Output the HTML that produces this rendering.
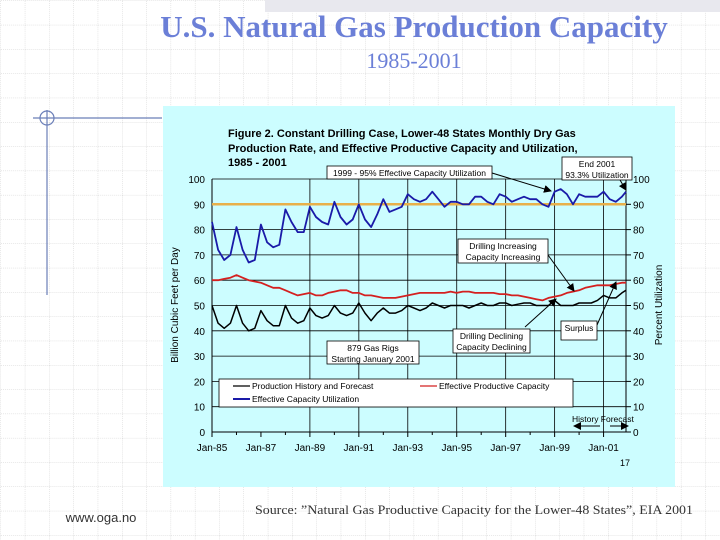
<!DOCTYPE html>
<html><head><meta charset="utf-8"><style>
html,body{margin:0;padding:0;background:#fff;}
#root{position:relative;width:720px;height:540px;overflow:hidden;font-family:"Liberation Sans",sans-serif;}
</style></head><body>
<div id="root">
<svg width="720" height="540" viewBox="0 0 720 540" xmlns="http://www.w3.org/2000/svg">
<defs>
<pattern id="grid" width="24.3" height="24.3" patternUnits="userSpaceOnUse" x="1" y="1">
<path d="M24.3 0 V24.3 M0 24.3 H24.3" stroke="#d0d0d0" stroke-width="1" stroke-dasharray="1,1" fill="none"/>
</pattern>
<marker id="ah" markerWidth="8" markerHeight="8" refX="7" refY="4" orient="auto"><path d="M0,0 L8,4 L0,8 z" fill="#000"/></marker>
</defs>
<rect x="0" y="0" width="720" height="540" fill="url(#grid)"/>
<rect x="265" y="0" width="455" height="12" fill="#e8e8ee"/>
<text x="414" y="37" text-anchor="middle" font-family="'Liberation Serif',serif" font-weight="bold" font-size="31" fill="#6b7fd7">U.S. Natural Gas Production Capacity</text>
<text x="414" y="68" text-anchor="middle" font-family="'Liberation Serif',serif" font-size="22" fill="#6b7fd7">1985-2001</text>
<g stroke="#6b7fb8" stroke-width="1.2" fill="none">
<line x1="33" y1="118" x2="162" y2="118"/><line x1="47" y1="110" x2="47" y2="295"/><circle cx="47" cy="118" r="7"/>
</g>
<rect x="163" y="106" width="512" height="381" fill="#ccfdff"/>
<g font-weight="bold" font-size="11" fill="#000">
<text x="228" y="137">Figure 2.  Constant Drilling Case, Lower-48 States Monthly Dry Gas</text>
<text x="228" y="152">Production Rate, and Effective Productive Capacity and Utilization,</text>
<text x="228" y="166">1985 - 2001</text>
</g>
<g id="plot"></g>
<text x="693" y="514" text-anchor="end" font-family="'Liberation Serif',serif" font-size="12.5" fill="#333" textLength="438" lengthAdjust="spacingAndGlyphs">Source: ”Natural Gas Productive Capacity for the Lower-48 States”, EIA 2001</text>
<text x="101" y="522" text-anchor="middle" font-size="13" fill="#333">www.oga.no</text>
</svg>
</div>
<script>
const yTicks=[0,10,20,30,40,50,60,70,80,90,100];
const xLabels=["Jan-85","Jan-87","Jan-89","Jan-91","Jan-93","Jan-95","Jan-97","Jan-99","Jan-01"];
const targetLevel=90;
// quarterly values Jan, Apr, Jul, Oct for 1985..2001, plus Dec-01
const utilization=[83,72,68,70, 81,72,67,68, 82,75,73,74, 88,83,79,79, 89,85,83,82, 91,85,82,84, 90,84,81,86, 92,87,88,89, 94,92,91,92, 95,92,89,91, 91,90,90,93, 93,91,90,94, 93,91,92,93, 92,92,90,89, 95,96,94,90, 94,93,93,93, 95,92,91,93, 95];
const capacity=[60,60,60.5,61, 62,61,60,59.5, 59,58,57,57, 56,55,54,54.5, 55,54,54,55, 55.5,56,56,55, 55,54,54,53.5, 53,53,53,53.5, 54,54.5,55,55, 55,55,55,55.5, 55,55.5,55.5,55, 55,55,55,54.5, 54.5,54,54,53.5, 53,52.5,52,53, 53.5,54,55,55.5, 56,57,57.5,58, 58,58,58.5, 59, 59];
const production=[50,43,41,43, 50,43,40,41, 48,44,42,42, 50,45,43,44, 49,46,45,46, 50,47,46,47, 51,47,44,47, 49,47,47,48, 50,49,48,49, 51,50,49,50, 50,50,49,50, 51,50,50,51, 51,50,50.5,51, 51,50,50,50, 52,50,50,50, 51,51,51,52, 54,53,53,55, 56];

const NS="http://www.w3.org/2000/svg";
const plot=document.getElementById('plot');
const X0=212,X1=626,Y0=432,YS=2.53,MONTHS=203;
const xScale=m=>X0+m*(X1-X0)/MONTHS;
const yScale=v=>Y0-v*YS;
const qMonth=i=>Math.min(i*3,MONTHS);
function mk(tag,attrs,parent){const e=document.createElementNS(NS,tag);for(const k in attrs)e.setAttribute(k,attrs[k]);(parent||plot).appendChild(e);return e;}

yTicks.forEach(v=>{
 const l=mk('line',{x1:X0,x2:X1,y1:yScale(v),y2:yScale(v),stroke:'#000','stroke-width':v===0?1:0.8});
 
 
 const t=mk('text',{x:205,y:yScale(v)+4,'text-anchor':'end','font-size':10});
 t.textContent=v;
 
 
 const t2=mk('text',{x:633,y:yScale(v)+4,'font-size':10});
 t2.textContent=v;
 
 
 const tk=mk('line',{x1:X1,x2:X1+5,y1:yScale(v),y2:yScale(v),stroke:'#000'});
 
 
});
mk('line',{x1:X0,x2:X0,y1:yScale(100),y2:Y0,stroke:'#000'});
mk('line',{x1:X1,x2:X1,y1:yScale(100),y2:Y0,stroke:'#000'});
xLabels.forEach((lab,i)=>{
 const m=i*24, x=xScale(m);
 if(i>=2){const g=mk('line',{x1:x,x2:x,y1:yScale(100),y2:Y0,stroke:'#000','stroke-width':0.8});
 
 }
 const tk=mk('line',{x1:x,x2:x,y1:Y0,y2:Y0+5,stroke:'#000'});
 
 
 const t=mk('text',{x:x,y:Y0+19,'text-anchor':'middle','font-size':10});
 t.textContent=lab;
 
 
});
for(let m=12;m<MONTHS;m+=24){mk('line',{x1:xScale(m),x2:xScale(m),y1:Y0,y2:Y0+3,stroke:'#000'});}

const lt=mk('text',{x:178,y:305,'text-anchor':'middle','font-size':10,transform:'rotate(-90 178 305)'});
lt.textContent='Billion Cubic Feet per Day';


const rt=mk('text',{x:662,y:305,'text-anchor':'middle','font-size':10,transform:'rotate(-90 662 305)'});
rt.textContent='Percent Utilization';



const tl=mk('line',{x1:X0,x2:X1,y1:yScale(targetLevel),y2:yScale(targetLevel),stroke:'#e8b04a','stroke-width':2.5});



function series(vals,color,w,name){
 const d=vals.map((v,i)=>(i?'L':'M')+xScale(qMonth(i)).toFixed(1)+','+yScale(v).toFixed(1)).join(' ');
 const p=mk('path',{d:d,fill:'none',stroke:color,'stroke-width':w,'stroke-linejoin':'round'});
 
 
}
series(capacity,'#d42020',1.8,'capacity-line');
series(production,'#000',1.5,'production-line');
series(utilization,'#1a1aa8',1.8,'utilization-line');

function box(x,y,w,h,lines,name){
 const g=mk('g',{});
 
 
 mk('rect',{x:x,y:y,width:w,height:h,fill:'#fff',stroke:'#000','stroke-width':0.8},g);
 lines.forEach((s,i)=>{const t=mk('text',{x:x+w/2,y:y+10+i*11,'text-anchor':'middle','font-size':8.5},g);t.textContent=s;});
}
function arrow(x1,y1,x2,y2,name){const a=mk('line',{x1,y1,x2,y2,stroke:'#000','stroke-width':1,'marker-end':'url(#ah)'});}
arrow(492,173,551,191,'arrow-1999');
arrow(620,180,626,190,'arrow-end-2001');
arrow(548,255,574,291,'arrow-increasing');
arrow(525,327,556,299,'arrow-declining');
arrow(597,325,616,282,'arrow-surplus');
box(327,166,165,13,['1999 - 95% Effective Capacity Utilization'],'annotation-1999');
box(562,157,70,23,['End 2001','93.3% Utilization'],'annotation-end-2001');
box(458,239,90,24,['Drilling Increasing','Capacity Increasing'],'annotation-drilling-increasing');
box(327,341,92,23,['879 Gas Rigs','Starting January 2001'],'annotation-gas-rigs');
box(453,329,77,24,['Drilling Declining','Capacity Declining'],'annotation-drilling-declining');
box(561,321,36,19,['Surplus'],'annotation-surplus');

const lg=mk('g',{});


mk('rect',{x:219,y:379,width:354,height:28,fill:'#fff',stroke:'#000','stroke-width':0.8},lg);
[[233,389,'#000','Production History and Forecast'],[420,389,'#d42020','Effective Productive Capacity'],[233,402,'#1a1aa8','Effective Capacity Utilization']].forEach(([x,y,c,s])=>{
 const e=mk('g',{},lg);
 
 
 mk('line',{x1:x,x2:x+17,y1:y-3,y2:y-3,stroke:c,'stroke-width':c==='#1a1aa8'?2:1.2},e);
 const t=mk('text',{x:x+19,y:y,'font-size':8.5},e);t.textContent=s;
});
const hf=mk('text',{x:572,y:422,'font-size':8.5});hf.textContent='History  Forecast';


mk('line',{x1:600,y1:426,x2:574,y2:426,stroke:'#000','marker-end':'url(#ah)'});
mk('line',{x1:610,y1:426,x2:628,y2:426,stroke:'#000','marker-end':'url(#ah)'});
const pg=mk('text',{x:620,y:466,'font-size':9});pg.textContent='17';


</script>
</body></html>
